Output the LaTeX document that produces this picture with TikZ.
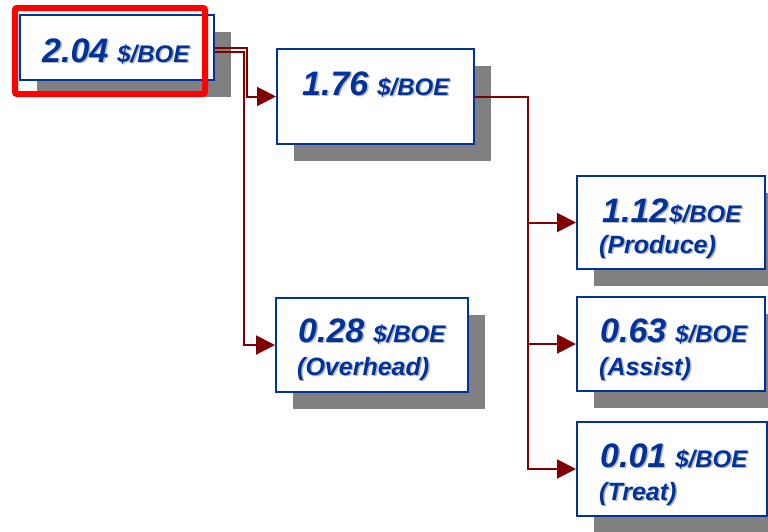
\documentclass[tikz,border=0pt]{standalone}
\usepackage{fontspec}
\setmainfont{Liberation Sans}
\usetikzlibrary{arrows.meta,shadows}
\definecolor{navy}{HTML}{003399}
\definecolor{connred}{HTML}{800000}
\definecolor{shade}{HTML}{808080}
\definecolor{tshade}{HTML}{B8B8B8}
\tikzset{
  box/.style={draw=navy, line width=2pt, fill=white, inner sep=0pt,
    drop shadow={shadow xshift=17pt, shadow yshift=-17pt, fill=shade, opacity=1}},
  conn/.style={draw=connred, line width=2pt, -{Triangle[length=19pt,width=19pt]}},
  txt/.style={text=navy, inner sep=0pt, anchor=base west, font=\bfseries\itshape},
  txtsh/.style={text=tshade, inner sep=0pt, anchor=base west, font=\bfseries\itshape},
}
\newcommand{\bignum}[1]{{\fontsize{34}{34}\selectfont #1}}
\newcommand{\unittxt}[1]{{\fontsize{24}{24}\selectfont #1}}
\newcommand{\subtxt}[1]{{\fontsize{25}{25}\selectfont #1}}
\newcommand{\gap}{\hspace{9pt}}
\newcommand{\lbl}[3]{%
  \node[txtsh] at ([shift={(1.5pt,-1.5pt)}]#1) {#3};
  \node[txt] (#2) at (#1) {#3};}
\begin{document}
\begin{tikzpicture}[x=1pt,y=1pt]
\useasboundingbox (0,0) rectangle (768,-531);
% boxes
\node[box, minimum width=194pt, minimum height=65pt] (b1) at (117,-47.5) {};
\node[box, minimum width=197pt, minimum height=95pt] (b2) at (375.5,-96.5) {};
\node[box, minimum width=192pt, minimum height=94pt] (b4) at (372,-345) {};
\node[box, minimum width=188pt, minimum height=93pt] (b5) at (671,-222.5) {};
\node[box, minimum width=188pt, minimum height=94pt] (b6) at (671,-344) {};
\node[box, minimum width=190pt, minimum height=94pt] (b7) at (672,-469) {};
% highlight
\node[draw=red, line width=6pt, rounded corners=2pt, minimum width=190pt, minimum height=86pt, inner sep=0pt] (hl) at (110,-51) {};
% connectors
\draw[conn] ([yshift=-0.5pt]b1.east) -- ++(32,0) |- (b2.west);
\draw[conn] ([yshift=-4.5pt]b1.east) -- ++(29,0) |- (b4.west);
\draw[conn] (b2.east) -- ++(53,0) |- (b5.west);
\draw[conn] (b2.east) -- ++(53,0) |- (b6.west);
\draw[conn] (b2.east) -- ++(53,0) |- (b7.west);
% texts
\lbl{42,-62}{t1}{\bignum{2.04}\gap\unittxt{\$/BOE}}
\lbl{302,-95}{t2}{\bignum{1.76}\gap\unittxt{\$/BOE}}
\lbl{602,-222}{t5}{\bignum{1.12}\hspace{1pt}\unittxt{\$/BOE}}
\lbl{599,-253}{t5b}{\subtxt{(Produce)}}
\lbl{298,-342}{t4}{\bignum{0.28}\gap\unittxt{\$/BOE}}
\lbl{297,-375}{t4b}{\subtxt{(Overhead)}}
\lbl{600,-342}{t6}{\bignum{0.63}\gap\unittxt{\$/BOE}}
\lbl{599,-375}{t6b}{\subtxt{(Assist)}}
\lbl{600,-467}{t7}{\bignum{0.01}\gap\unittxt{\$/BOE}}
\lbl{599,-500}{t7b}{\subtxt{(Treat)}}
\end{tikzpicture}
\end{document}
